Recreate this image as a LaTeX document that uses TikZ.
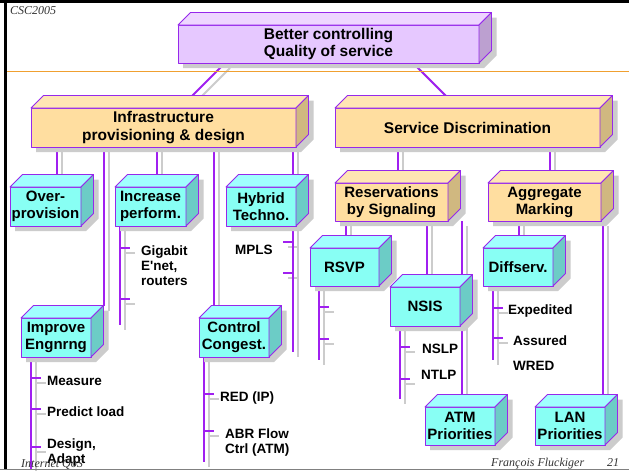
\documentclass[tikz,border=0pt]{standalone}
\usepackage{fontspec}
\setmainfont{Liberation Sans}
\newfontfamily\slidefont{Liberation Serif}
\usetikzlibrary{calc}
\pgfdeclarelayer{paper}
\pgfdeclarelayer{links}
\pgfdeclarelayer{shade}
\pgfsetlayers{paper,links,shade,main}

\definecolor{violetline}{RGB}{160,32,240}
\definecolor{edgeviolet}{RGB}{150,40,235}
\definecolor{lilacfront}{RGB}{230,200,255}
\definecolor{lilactop}{RGB}{238,214,255}
\definecolor{lilacside}{RGB}{188,160,208}
\definecolor{peachfront}{RGB}{255,222,160}
\definecolor{peachtop}{RGB}{255,230,180}
\definecolor{peachside}{RGB}{208,184,128}
\definecolor{aquafront}{RGB}{136,255,244}
\definecolor{aquatop}{RGB}{160,255,255}
\definecolor{aquaside}{RGB}{108,204,198}
\definecolor{shadegray}{RGB}{204,204,204}
\definecolor{rulegold}{RGB}{240,160,48}

\newcommand\boxfont{\fontsize{15}{17}\selectfont\bfseries}
\newcommand\headfont{\fontsize{15.5}{17.5}\selectfont\bfseries}
\newcommand\itemfont{\fontsize{13.5}{15}\selectfont\bfseries}
\newcommand\footfont{\slidefont\itshape\fontsize{12}{14}\selectfont}
\newcommand\boxdepth{12.5}

% 3-D box: front face is the node, top and side faces drawn around it,
% drop shadow on its own layer
\newcommand\prism[8][]{%
  \node[face=#7,minimum width=#5pt,minimum height=#6pt,anchor=north west,#1] (#2) at (#3,#4) {#8};
  \filldraw[rim,fill=#7top] (#2.north west) -- ++(\boxdepth,-\boxdepth)
    -- ($(#2.north east)+(\boxdepth,-\boxdepth)$) -- (#2.north east) -- cycle;
  \filldraw[rim,fill=#7side] (#2.north east) -- ++(\boxdepth,-\boxdepth)
    -- ($(#2.south east)+(\boxdepth,-\boxdepth)$) -- (#2.south east) -- cycle;
  \begin{pgfonlayer}{shade}
    \fill[shadegray] ($(#2.south west)+(5,5)$) -- ($(#2.north west)+(5,5)$)
      -- ($(#2.north west)+(5+\boxdepth,5-\boxdepth)$)
      -- ($(#2.north east)+(5+\boxdepth,5-\boxdepth)$)
      -- ($(#2.south east)+(5+\boxdepth,5-\boxdepth)$)
      -- ($(#2.south east)+(5,5)$) -- cycle;
  \end{pgfonlayer}}

% vertical link from a parent's bottom edge down onto a child's top face
\newcommand\drop[4]{%
  \coordinate (#2-in) at ($(#2.north)+(#3,#4)$);
  \draw[link] (#2-in |- #1.south) -- (#2-in);}

\begin{document}
\begin{tikzpicture}[x=1pt,y=-1pt,
  rim/.style={draw=edgeviolet,line width=0.9pt,line join=round},
  face/.style={rim,fill=#1front,inner sep=0pt,outer sep=0pt,align=center,font=\boxfont,text=black},
  link/.style={draw=violetline,line width=2pt,
    preaction={draw=shadegray,line width=2pt,transform canvas={xshift=5pt,yshift=-5pt}}},
  item/.style={anchor=base west,inner sep=0pt,align=left,font=\itemfont},
  foot/.style={anchor=base west,inner sep=0pt,font=\footfont,text=black!80}]

\useasboundingbox (0,0) rectangle (629,471);
\begin{pgfonlayer}{paper}
  \fill[white] (0,0) rectangle (629,471);
\end{pgfonlayer}

% slide frame
\fill[black] (0,0) rectangle (629,3);
\fill[black] (4,0) rectangle (7,470);
\draw[black!50,line width=1.5pt] (0,469.5) -- (629,469.5);
\draw[rulegold,line width=1pt] (7,71) -- (629,71);

% boxes
\prism[font=\headfont]{goal}{178}{25}{301}{38}{lilac}{Better controlling\\Quality of service}
\prism[font=\headfont]{infra}{31}{108}{265}{39}{peach}{Infrastructure\\provisioning \& design}
\prism[font=\headfont]{serv}{335}{108}{265}{39}{peach}{Service Discrimination}

\prism{ovp}{10}{187}{71}{39}{aqua}{Over-\\provision}
\prism{inc}{115}{187}{71}{39}{aqua}{Increase\\perform.}
\prism{hyb}{226}{187}{70}{39}{aqua}{Hybrid\\Techno.}
\prism{res}{335}{183}{113}{38}{peach}{Reservations\\by Signaling}
\prism{agg}{488}{183}{113}{38}{peach}{Aggregate\\Marking}

\prism{rsvp}{310}{248}{69}{38}{aqua}{RSVP}
\prism{diff}{483}{248}{70}{38}{aqua}{Diffserv.}
\prism{nsis}{390}{287}{70}{39}{aqua}{NSIS}
\prism{imp}{21}{318}{70}{39}{aqua}{Improve\\Engnrng}
\prism{cc}{199}{318}{70}{39}{aqua}{Control\\Congest.}
\prism{atm}{425}{407}{70}{38}{aqua}{ATM\\Priorities}
\prism{lan}{535}{407}{70}{38}{aqua}{LAN\\Priorities}

% item labels (multi-line labels sit on their last baseline)
\node[item] (gig) at (141,285) {Gigabit\\E\textquotesingle net,\\routers};
\node[item] (mpls) at (235,254) {MPLS};
\node[item] (meas) at (47,385) {Measure};
\node[item] (pred) at (47,416) {Predict load};
\node[item] (desg) at (47,463) {Design,\\Adapt};
\node[item] (red) at (220,401) {RED (IP)};
\node[item] (abr) at (225,453) {ABR Flow\\Ctrl (ATM)};
\node[item] (nslp) at (422,353) {NSLP};
\node[item] (ntlp) at (421,379) {NTLP};
\node[item] (expd) at (508,314) {Expedited};
\node[item] (assd) at (513,345) {Assured};
\node[item] (wred) at (513,370) {WRED};

% footer
\node[foot] (csc) at (10,14) {CSC2005};
\node[foot] (iq) at (21,467) {Internet QoS};
\node[foot] (auth) at (491,466) {François Fluckiger};
\node[foot] (pg) at (607,466) {21};

% connectors
\begin{pgfonlayer}{links}
  \draw[link] ($(goal.south west)+(47,0)$) -- ($(infra.north)+(26.5,-10)$);
  \draw[link] ($(goal.south west)+(235,0)$) -- ($(serv.north)+(-19.5,-10)$);

  \drop{infra}{ovp}{11.5}{-7}
  \drop{infra}{imp}{48}{-12}
  \drop{infra}{inc}{6.5}{-7}
  \drop{infra}{cc}{-20}{-8}
  \drop{infra}{hyb}{32}{-7}

  \drop{serv}{res}{6.5}{-7}
  \drop{serv}{agg}{5.5}{-7}

  \drop{res}{rsvp}{1.5}{-6}
  \drop{res}{nsis}{2}{-6}
  \drop{res}{atm}{2}{-7}
  \drop{agg}{diff}{1}{-6}
  \drop{agg}{lan}{33}{-7}

  % item brackets
  \coordinate (incb) at ($(inc.south west)+(5,0)$);
  \draw[link] (incb) -- ++(0,99)
    ($(incb)+(0,22)$) -- ++(10,0) ($(incb)+(0,73)$) -- ++(10,0);
  \coordinate (hybb) at ($(hyb.south east)+(-3,0)$);
  \draw[link] (hybb) -- ++(0,126)
    ($(hybb)+(0,16)$) -- ++(-10,0) ($(hybb)+(0,47)$) -- ++(-10,0);
  \coordinate (impb) at ($(imp.south west)+(10,0)$);
  \draw[link] (impb) -- ++(0,113)
    ($(impb)+(0,21)$) -- ++(10,0) ($(impb)+(0,52)$) -- ++(10,0) ($(impb)+(0,90)$) -- ++(10,0);
  \coordinate (ccb) at ($(cc.south west)+(5,0)$);
  \draw[link] (ccb) -- ++(0,105)
    ($(ccb)+(0,37)$) -- ++(10,0) ($(ccb)+(0,74)$) -- ++(10,0);
  \coordinate (rsvpb) at ($(rsvp.south west)+(9,0)$);
  \draw[link] (rsvpb) -- ++(0,74)
    ($(rsvpb)+(0,21)$) -- ++(10,0) ($(rsvpb)+(0,53)$) -- ++(10,0);
  \coordinate (nsisb) at ($(nsis.south west)+(10,0)$);
  \draw[link] (nsisb) -- ++(0,73)
    ($(nsisb)+(0,21)$) -- ++(10,0) ($(nsisb)+(0,53)$) -- ++(10,0);
  \coordinate (diffb) at ($(diff.south west)+(10,0)$);
  \draw[link] (diffb) -- ++(0,74)
    ($(diffb)+(0,22)$) -- ++(10,0) ($(diffb)+(0,52)$) -- ++(10,0);
\end{pgfonlayer}
\end{tikzpicture}
\end{document}
